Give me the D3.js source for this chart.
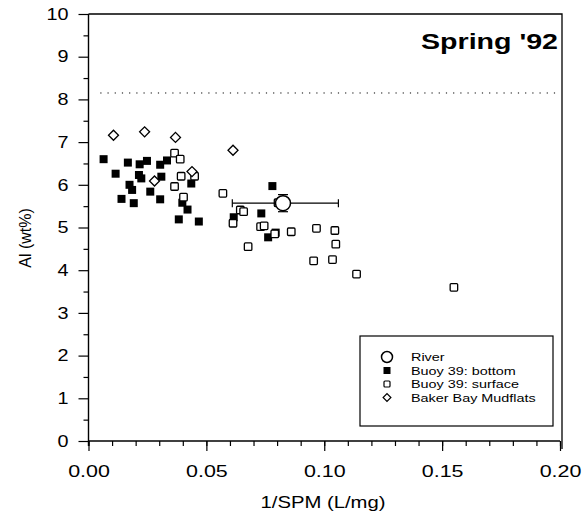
<!DOCTYPE html>
<html><head><meta charset="utf-8">
<script src="https://cdn.jsdelivr.net/npm/d3@7"></script>
<style>body{margin:0;background:#fff}svg{display:block}text{font-family:"Liberation Sans",Arial,sans-serif}</style>
</head><body>
<svg id="c" width="588" height="523"></svg>
<script>
const xTicks = [0, 0.05, 0.10, 0.15, 0.20];
const yTicks = [0,1,2,3,4,5,6,7,8,9,10];
const refLine = 8.15;
const bottom = [[0.0064,6.60],[0.0115,6.26],[0.0167,6.52],[0.0217,6.48],[0.0248,6.56],[0.0304,6.47],[0.0333,6.57],[0.0214,6.23],[0.0224,6.15],[0.0309,6.19],[0.0174,6.00],[0.0185,5.88],[0.0262,5.84],[0.0140,5.67],[0.0192,5.57],[0.0304,5.66],[0.0436,6.03],[0.0398,5.58],[0.0420,5.42],[0.0383,5.19],[0.0468,5.14],[0.0616,5.24],[0.0733,5.33],[0.0780,5.97],[0.0762,4.77],[0.0794,4.88]];
const surface = [[0.0365,6.74],[0.0389,6.60],[0.0393,6.20],[0.0450,6.20],[0.0365,5.96],[0.0403,5.71],[0.0570,5.80],[0.0804,5.58],[0.0644,5.41],[0.0658,5.37],[0.0613,5.10],[0.0730,5.02],[0.0745,5.04],[0.0790,4.85],[0.0860,4.90],[0.0967,4.98],[0.1045,4.93],[0.1049,4.61],[0.0677,4.55],[0.0955,4.22],[0.1035,4.25],[0.1137,3.91],[0.1550,3.60]];
const mudflats = [[0.0106,7.16],[0.0238,7.24],[0.0369,7.11],[0.0613,6.81],[0.0439,6.31],[0.0280,6.09]];
const river = [[0.0825,5.57]];
const riverXErr = [0.061,0.106];
const riverYErr = [5.37,5.77];
const legendLabels = ["River","Buoy 39: bottom","Buoy 39: surface","Baker Bay Mudflats"];

const svg = d3.select("#c");
const x = d3.scaleLinear().domain([0,0.2]).range([88.5,560]);
const y = d3.scaleLinear().domain([0,10]).range([441,14]);

function stretch(sel, k){
  sel.each(function(){
    const len = this.getComputedTextLength();
    d3.select(this).attr("textLength", len*k).attr("lengthAdjust","spacingAndGlyphs");
  });
}

// axes
const gx = svg.append("g").attr("transform","translate(0,441)");
gx.call(d3.axisBottom(x).tickValues(d3.range(0,0.2001,0.01)).tickSize(5).tickFormat(""));
gx.call(g=>g.selectAll(".domain").remove());
const gx2 = svg.append("g").attr("transform","translate(0,441)");
gx2.call(d3.axisBottom(x).tickValues(xTicks).tickSize(10).tickPadding(14).tickFormat(d3.format(".2f")));
gx2.selectAll("text").attr("font-size",16.5).attr("dy","0.71em").attr("fill","#000");
gx2.select(".domain").attr("d",`M${x(0)},0H${x(0.2)}`);

const gy = svg.append("g").attr("transform","translate(88.5,0)");
gy.call(d3.axisLeft(y).tickValues(d3.range(0.5,10,1)).tickSize(5).tickFormat(""));
gy.call(g=>g.selectAll(".domain").remove());
const gy2 = svg.append("g").attr("transform","translate(88.5,0)");
gy2.call(d3.axisLeft(y).tickValues(yTicks).tickSize(10).tickPadding(10).tickFormat(d3.format("d")));
gy2.selectAll("text").attr("font-size",16.5).attr("fill","#000");
gy2.select(".domain").attr("d",`M0,${y(0)+5}V${y(10)}`);
svg.selectAll(".tick line").attr("stroke","#000").attr("stroke-width",1.2);
svg.selectAll(".domain").attr("stroke","#000").attr("stroke-width",1.4);
stretch(gx2.selectAll("text"),1.3);
stretch(gy2.selectAll("text"),1.2);

// frame top & right
svg.append("path").attr("d",`M${x(0)},${y(10)}H${x(0.2)+2}V${y(0)+8}`).attr("fill","none").attr("stroke","#000").attr("stroke-width",1.3);

// dotted line
svg.append("line").attr("x1",x(0.005)).attr("x2",x(0.2)).attr("y1",y(refLine)).attr("y2",y(refLine))
  .attr("stroke","#000").attr("stroke-width",1).attr("stroke-dasharray","1.2,6");

// titles
svg.append("text").attr("x",323).attr("y",508).attr("text-anchor","middle").attr("font-size",16.5)
  .attr("textLength",125).attr("lengthAdjust","spacingAndGlyphs").text("1/SPM (L/mg)");
svg.append("text").attr("transform",`translate(31,238) rotate(-90)`).attr("text-anchor","middle").attr("font-size",16).text("Al (wt%)");
svg.append("text").attr("x",558).attr("y",49).attr("text-anchor","end").attr("font-size",22).attr("font-weight","bold")
  .attr("textLength",137).attr("lengthAdjust","spacingAndGlyphs").text("Spring '92");

// markers
const sq = 8, osq = 7.5;
svg.append("g").selectAll("rect").data(bottom).join("rect")
  .attr("x",d=>x(d[0])-sq/2).attr("y",d=>y(d[1])-sq/2).attr("width",sq).attr("height",sq).attr("fill","#000");
svg.append("g").selectAll("rect").data(surface).join("rect")
  .attr("x",d=>x(d[0])-osq/2).attr("y",d=>y(d[1])-osq/2).attr("width",osq).attr("height",osq).attr("rx",1)
  .attr("fill","#fff").attr("stroke","#000").attr("stroke-width",1.3);
svg.append("g").selectAll("path").data(mudflats).join("path")
  .attr("transform",d=>`translate(${x(d[0])},${y(d[1])}) rotate(45)`)
  .attr("d",d3.symbol().type(d3.symbolSquare).size(50))
  .attr("fill","#fff").attr("stroke","#000").attr("stroke-width",1.3);

// river with error bars
const r = river[0];
const eb = svg.append("g").attr("stroke","#000").attr("stroke-width",1.2).attr("fill","none");
eb.append("line").attr("x1",x(riverXErr[0])).attr("x2",x(riverXErr[1])).attr("y1",y(r[1])).attr("y2",y(r[1]));
eb.append("line").attr("x1",x(riverXErr[0])).attr("x2",x(riverXErr[0])).attr("y1",y(r[1])-4).attr("y2",y(r[1])+4);
eb.append("line").attr("x1",x(riverXErr[1])).attr("x2",x(riverXErr[1])).attr("y1",y(r[1])-4).attr("y2",y(r[1])+4);
eb.append("line").attr("x1",x(r[0])).attr("x2",x(r[0])).attr("y1",y(riverYErr[0])).attr("y2",y(riverYErr[1]));
eb.append("line").attr("x1",x(r[0])-5).attr("x2",x(r[0])+5).attr("y1",y(riverYErr[0])).attr("y2",y(riverYErr[0]));
eb.append("line").attr("x1",x(r[0])-5).attr("x2",x(r[0])+5).attr("y1",y(riverYErr[1])).attr("y2",y(riverYErr[1]));
svg.append("g").selectAll("circle").data(river).join("circle")
  .attr("cx",d=>x(d[0])).attr("cy",d=>y(d[1])).attr("r",7.5)
  .attr("fill","#fff").attr("stroke","#000").attr("stroke-width",1.5);

// legend
const lg = svg.append("g");
lg.append("rect").attr("x",360).attr("y",336).attr("width",193).attr("height",90).attr("fill","#fff").attr("stroke","#000").attr("stroke-width",1.2);
const ly = [357,370.5,384,397.5];
lg.append("circle").attr("cx",387).attr("cy",ly[0]).attr("r",5.5).attr("fill","#fff").attr("stroke","#000").attr("stroke-width",1.5);
lg.append("rect").attr("x",383.5).attr("y",ly[1]-3.5).attr("width",7).attr("height",7).attr("fill","#000");
lg.append("rect").attr("x",384).attr("y",ly[2]-3).attr("width",6).attr("height",6).attr("rx",1).attr("fill","#fff").attr("stroke","#000").attr("stroke-width",1.2);
lg.append("path").attr("transform",`translate(387,${ly[3]}) rotate(45)`).attr("d",d3.symbol().type(d3.symbolSquare).size(30)).attr("fill","#fff").attr("stroke","#000").attr("stroke-width",1.2);
const lt = lg.selectAll("text").data(legendLabels).join("text").attr("x",411).attr("y",(d,i)=>ly[i]).attr("dy","0.35em").attr("font-size",11.5).text(d=>d);
stretch(lt,1.25);
</script>
</body></html>
